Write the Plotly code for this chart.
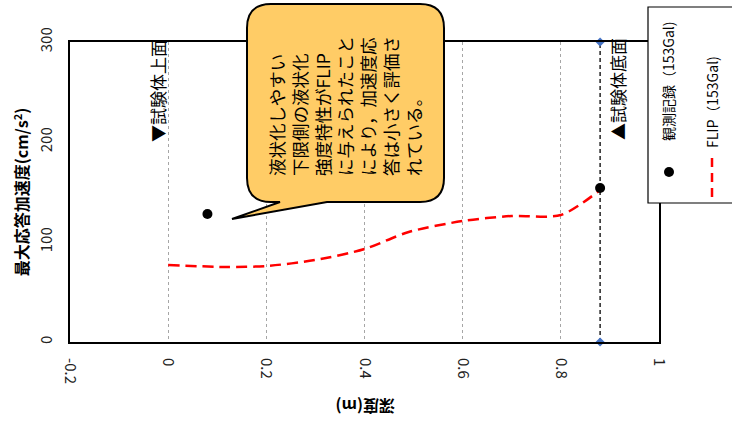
import plotly.graph_objects as go

# ---- data ----
obs_depth = [0.08, 0.88]
obs_acc = [128, 154]
flip_depth = [0.0, 0.12, 0.2, 0.3, 0.4, 0.49, 0.6, 0.7, 0.8, 0.88]
flip_acc = [77, 75, 76, 82, 93, 110, 121, 126, 127, 152]
bottom_depth = [0.88, 0.88]
bottom_acc = [0, 300]
x_ticks = [-0.2, 0, 0.2, 0.4, 0.6, 0.8, 1]
x_tick_labels = ["-0.2", "0", "0.2", "0.4", "0.6", "0.8", "1"]
y_ticks = [0, 100, 200, 300]
y_tick_labels = ["0", "100", "200", "300"]
label_obs = "観測記録（153Gal)"
label_flip = "FLIP（153Gal)"
callout_lines = ["液状化しやすい", "下限側の液状化", "強度特性がFLIP", "に与えられたこと",
                 "により，加速度応", "答は小さく評価さ", "れている。"]

JP = "Noto Sans CJK JP"
W, H = 732, 421
L, R, T, B = 70, 73, 42, 79
PW, PH = W - L - R, H - T - B


def px(xp, yp):
    return (xp - L) / PW, (H - B - yp) / PH


def path_from(cmds):
    out = []
    for c in cmds:
        s = c[0]
        for (a, b) in c[1:]:
            xx, yy = px(a, b)
            s += f" {xx:.5f},{yy:.5f}"
        out.append(s)
    return " ".join(out) + " Z"


fig = go.Figure()

fig.add_trace(go.Scatter(x=bottom_depth, y=bottom_acc, mode="lines+markers",
                         line=dict(color="black", width=1.3, dash="4px,3px"),
                         marker=dict(symbol="diamond", size=7, color="#4472C4"),
                         showlegend=False, cliponaxis=False))
fig.add_trace(go.Scatter(x=flip_depth, y=flip_acc, mode="lines", name=label_flip,
                         line=dict(color="#FF0000", width=2.5, dash="11px,6px", shape="spline", smoothing=0.8),
                         showlegend=False))
fig.add_trace(go.Scatter(x=obs_depth, y=obs_acc, mode="markers", name=label_obs,
                         marker=dict(color="black", size=10), showlegend=False))

shapes = []
# callout
x0, x1, y0, y1, r = 247, 444, 4, 202, 24
cmds = [("M", (x0 + r, y0)), ("L", (x1 - r, y0)), ("Q", (x1, y0), (x1, y0 + r)),
        ("L", (x1, y1 - r)), ("Q", (x1, y1), (x1 - r, y1)),
        ("L", (327, y1)), ("L", (232, 219)), ("L", (280, y1)),
        ("L", (x0 + r, y1)), ("Q", (x0, y1), (x0, y1 - r)),
        ("L", (x0, y0 + r)), ("Q", (x0, y0), (x0 + r, y0))]
shapes.append(dict(type="path", xref="paper", yref="paper", path=path_from(cmds),
                   fillcolor="#FFCC66", line=dict(color="black", width=2), layer="above"))
# legend box
lx0, ly0 = px(648, 203)
lx1, ly1 = px(745, 7)
shapes.append(dict(type="rect", xref="paper", yref="paper", x0=lx0, y0=ly0, x1=lx1, y1=ly1,
                   fillcolor="white", line=dict(color="black", width=1.2), layer="above"))
# legend red dashed segment
sx0, sy0 = px(712, 197)
sx1, sy1 = px(712, 153)
shapes.append(dict(type="line", xref="paper", yref="paper", x0=sx0, y0=sy0, x1=sx1, y1=sy1,
                   line=dict(color="#FF0000", width=2.5, dash="9px,6px"), layer="above"))
# legend dot
dx, dy = px(669, 172)
shapes.append(dict(type="circle", xref="paper", yref="paper",
                   x0=dx - 5 / PW, x1=dx + 5 / PW, y0=dy - 5 / PH, y1=dy + 5 / PH,
                   fillcolor="black", line=dict(color="black", width=0), layer="above"))

annotations = []
cx, cy = px(345, 106)
annotations.append(dict(xref="paper", yref="paper", x=cx, y=cy, text="<br>".join(callout_lines),
                        textangle=-90, align="left", showarrow=False,
                        font=dict(family=JP, size=17.5, color="black"),
                        xanchor="center", yanchor="middle"))
ax_, ay_ = px(157, 144)
annotations.append(dict(xref="paper", yref="paper", x=ax_, y=ay_, text="▼試験体上面",
                        textangle=-90, showarrow=False, font=dict(family=JP, size=17, color="black"),
                        xanchor="center", yanchor="bottom"))
bx_, by_ = px(617, 142)
annotations.append(dict(xref="paper", yref="paper", x=bx_, y=by_, text="▲試験体底面",
                        textangle=-90, showarrow=False, font=dict(family=JP, size=17, color="black"),
                        xanchor="center", yanchor="bottom"))
t1x, t1y = px(668, 143)
annotations.append(dict(xref="paper", yref="paper", x=t1x, y=t1y, text=label_obs,
                        textangle=-90, showarrow=False, font=dict(family=JP, size=14, color="black"),
                        xanchor="center", yanchor="bottom"))
t2x, t2y = px(712, 150)
annotations.append(dict(xref="paper", yref="paper", x=t2x, y=t2y, text=label_flip,
                        textangle=-90, showarrow=False, font=dict(family=JP, size=14, color="black"),
                        xanchor="center", yanchor="bottom"))
xtx, xty = px(365, 407)
annotations.append(dict(xref="paper", yref="paper", x=xtx, y=xty, text="<b>深度(m)</b>",
                        textangle=180, showarrow=False, font=dict(family=JP, size=16, color="black"),
                        xanchor="center", yanchor="middle"))

fig.update_layout(
    width=W, height=H, margin=dict(l=L, r=R, t=T, b=B, autoexpand=False),
    paper_bgcolor="white", plot_bgcolor="white",
    shapes=shapes, annotations=annotations, showlegend=False,
    xaxis=dict(range=[-0.2, 1], tickvals=x_ticks, ticktext=x_tick_labels, tickangle=90,
               showgrid=True, gridcolor="#A6A6A6", griddash="dot", gridwidth=1,
               zeroline=False, showline=True, linecolor="black", linewidth=2, mirror=True,
               ticks="", ticklabelstandoff=11, tickfont=dict(family=JP, size=15, color="#222")),
    yaxis=dict(range=[0, 300], tickvals=y_ticks, ticktext=y_tick_labels, tickangle=-90,
               showgrid=False, zeroline=False, showline=True, linecolor="black", linewidth=2,
               mirror=True, ticks="", ticklabelstandoff=10,
               tickfont=dict(family=JP, size=15, color="#222"),
               title=dict(text="<b>最大応答加速度(cm/s<sup>2</sup>)</b>", standoff=2,
                          font=dict(family=JP, size=16, color="black"))),
)

fig.write_html("out.html", config={"displayModeBar": False},
               post_script="document.body.style.margin='0';")
